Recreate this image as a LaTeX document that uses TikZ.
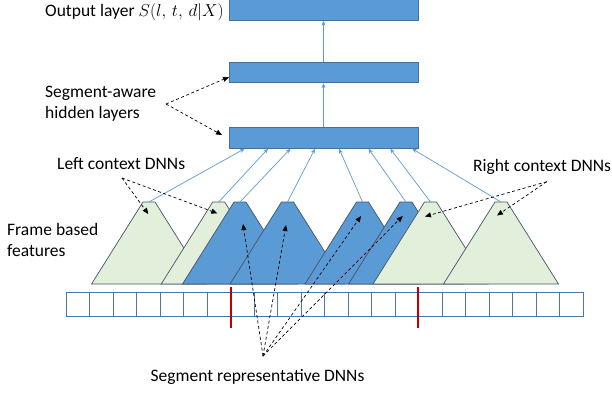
\documentclass[tikz,border=0pt]{standalone}
\usepackage{fontspec}
\setmainfont{Carlito}
\usetikzlibrary{arrows.meta,calc}

\definecolor{layerblue}{HTML}{5B9BD5}
\definecolor{layeredge}{HTML}{41719C}
\definecolor{trapedge}{HTML}{44546A}
\definecolor{ctxgreen}{HTML}{E2EFDA}
\definecolor{celledge}{HTML}{4A76A8}
\definecolor{segred}{HTML}{C00000}

\tikzset{
  layer/.style={draw=layeredge, fill=layerblue, line width=0.8pt,
    minimum width=189pt, minimum height=20.5pt, inner sep=0pt},
  lbl/.style={inner sep=0pt, font=\fontsize{17.5}{21}\selectfont, align=left},
  feed/.style={draw=layerblue, line width=0.7pt, -{Stealth[length=5pt,width=4pt]}},
  pointer/.style={draw=black, dashed, line width=0.7pt, dash pattern=on 3pt off 2.5pt,
    -{Triangle[length=6pt,width=5pt]}},
  cell/.style={draw=celledge, line width=0.8pt},
  boundary/.style={draw=segred, line width=2pt}
}

% one context / segment DNN drawn as a trapezoid with its top centre named
\newcommand{\dnntrap}[3]{%
  \draw[draw=trapedge, fill=#3, line width=0.7pt]
    (#2-57.5,284) -- (#2-6,202) -- (#2+6,202) -- (#2+57.5,284) -- cycle;
  \coordinate (#1) at (#2,202);
}

\begin{document}
\begin{tikzpicture}[x=1pt,y=-1pt]
\useasboundingbox (0,0) rectangle (612,392);

% stacked layers
\node[layer] (out) at (323.5,10) {};
\node[layer] (h2)  at (323.5,72.5) {};
\node[layer] (h1)  at (323.5,138) {};
\draw[feed] (h1.north) -- (h2.south);
\draw[feed] (h2.north) -- (out.south);

% frame-level feature cells
\foreach \i in {0,...,21}{
  \draw[cell] ({66+23.51*\i},292.7) rectangle ({66+23.51*(\i+1)},316);
}
\draw[boundary] (231,287.3) -- (231,328.3);
\draw[boundary] (418.3,287.3) -- (418.3,328.3);

% context and segment DNNs, later ones in front
\dnntrap{g1}{149}{ctxgreen}
\dnntrap{g2}{218.7}{ctxgreen}
\dnntrap{b3}{240}{layerblue}
\dnntrap{b4}{287.5}{layerblue}
\dnntrap{b5}{362.5}{layerblue}
\dnntrap{b6}{406}{layerblue}
\dnntrap{g7}{430.5}{ctxgreen}
\dnntrap{g8}{501}{ctxgreen}

% DNN outputs into the first segment-aware layer
\draw[feed] (g1) -- ($(h1.south west)!0.085!(h1.south east)$);
\draw[feed] (g2) -- ($(h1.south west)!0.208!(h1.south east)$);
\draw[feed] (b3) -- ($(h1.south west)!0.326!(h1.south east)$);
\draw[feed] (b4) -- ($(h1.south west)!0.455!(h1.south east)$);
\draw[feed] (b5) -- ($(h1.south west)!0.582!(h1.south east)$);
\draw[feed] (b6) -- ($(h1.south west)!0.737!(h1.south east)$);
\draw[feed] (g7) -- ($(h1.south west)!0.852!(h1.south east)$);
\draw[feed] (g8) -- ($(h1.south west)!0.967!(h1.south east)$);

% labels
\node[lbl, anchor=west] (outlbl) at (45,12) {Output layer $S(l,\,t,\,d|X)$};
\node[lbl, anchor=west] (hidlbl) at (45,104) {Segment-aware\\hidden layers};
\node[lbl, anchor=west] (leftlbl) at (57,164) {Left context DNNs};
\node[lbl, anchor=west] (framelbl) at (7,239.5) {Frame based\\features};
\node[lbl, anchor=west] (rightlbl) at (473,167) {Right context DNNs};
\node[lbl] (seglbl) at (257.5,376.7) {Segment representative DNNs};

% pointer sources and targets
\coordinate (hidsrc) at (166,104);
\coordinate (leftsrc) at (122,178);
\coordinate (rightsrc) at (546.7,181.7);
\coordinate (segsrc) at (263,356);
\coordinate (h2in) at (229,77);
\coordinate (h1in) at (222,135);
\coordinate (g1in) at (148.3,214);
\coordinate (g2in) at (217.3,213.3);
\coordinate (b3in) at (243,224);
\coordinate (b4in) at (286,225);
\coordinate (b5in) at (361,216);
\coordinate (b6in) at (402.7,216);
\coordinate (g7in) at (425,216.5);
\coordinate (g8in) at (497,215.5);

\draw[pointer] (hidsrc) -- (h2in);
\draw[pointer] (hidsrc) -- (h1in);
\draw[pointer] (leftsrc) -- (g1in);
\draw[pointer] (leftsrc) -- (g2in);
\draw[pointer] (rightsrc) -- (g7in);
\draw[pointer] (rightsrc) -- (g8in);
\draw[pointer] (segsrc) -- (b3in);
\draw[pointer] (segsrc) -- (b4in);
\draw[pointer] (segsrc) -- (b5in);
\draw[pointer] (segsrc) -- (b6in);
\end{tikzpicture}
\end{document}
